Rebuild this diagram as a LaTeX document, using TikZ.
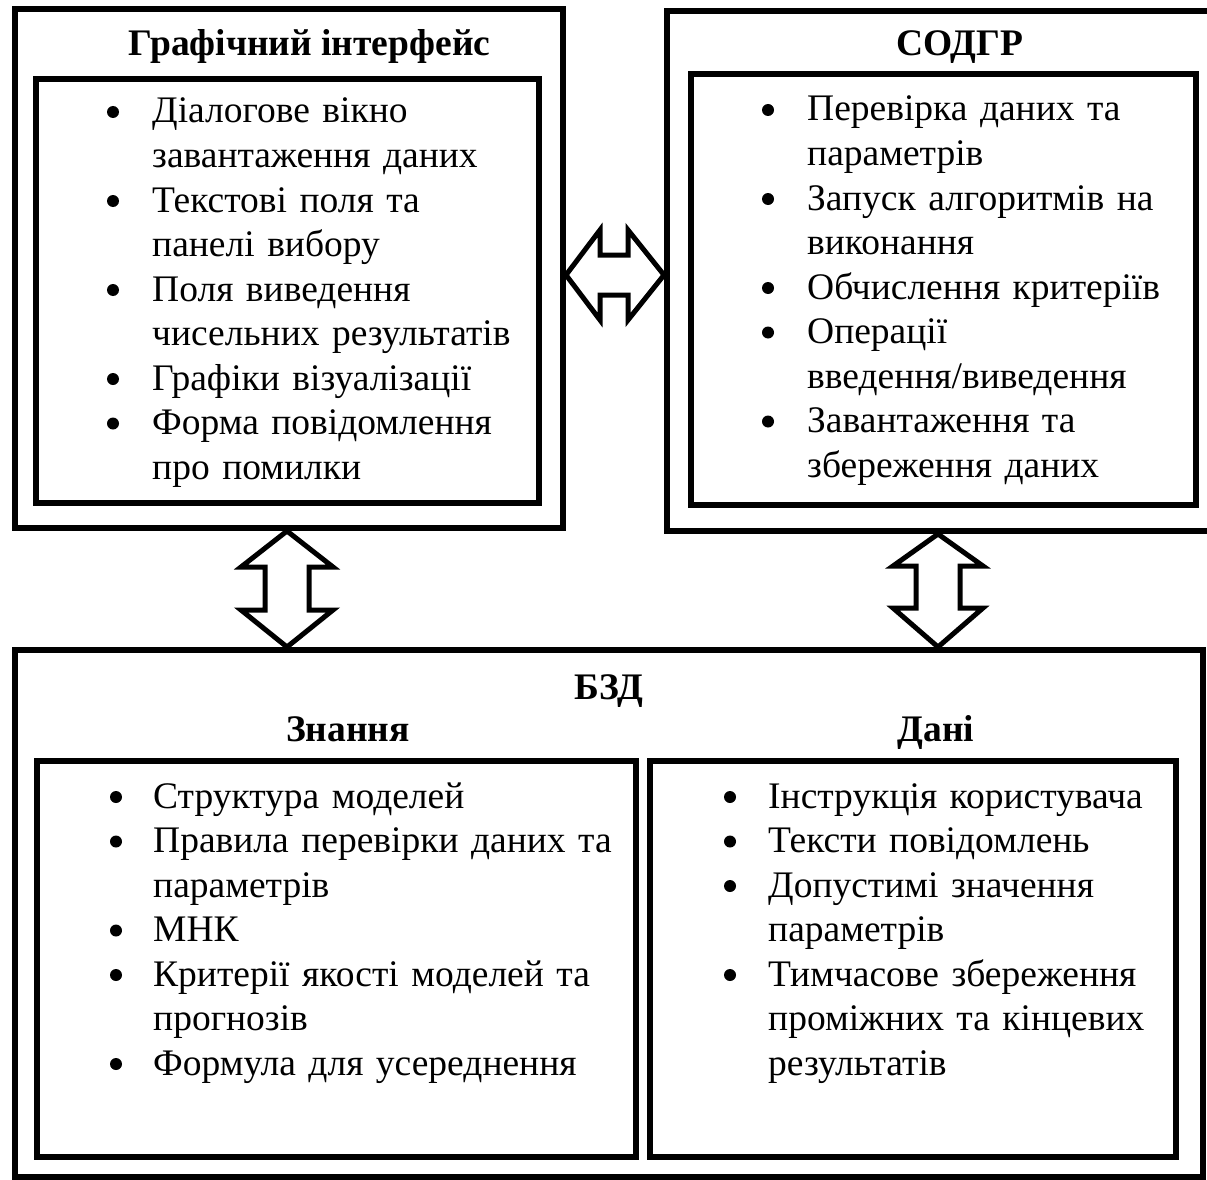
\documentclass[tikz,border=0pt]{standalone}
\usepackage{fontspec}
\setmainfont{Liberation Serif}
\usetikzlibrary{calc}
\begin{document}
\begin{tikzpicture}[x=1pt,y=-1pt,
  box/.style={draw, line width=6pt, rectangle, inner sep=0pt},
  itm/.style={anchor=base west, inner sep=0pt, text width=600pt, align=left, font=\fontsize{37.5}{44.5}\selectfont},
  bul/.style={circle, fill=black, inner sep=0pt, minimum size=12pt},
  ttl/.style={anchor=base, inner sep=0pt, font=\fontsize{37.5}{44.5}\selectfont\bfseries},
  dar/.style={draw, line width=5pt, fill=white, line join=miter}]
\useasboundingbox (0,0) rectangle (1207,1180);
% boxes
\node[box, minimum width=548pt, minimum height=519pt] (g) at (289,268.5) {};
\node[box, minimum width=503pt, minimum height=424pt] (gi) at (287.5,291) {};
\node[box, minimum width=544pt, minimum height=520pt] (s) at (939,271) {};
\node[box, minimum width=505pt, minimum height=431pt] (si) at (943.5,289.5) {};
\node[box, minimum width=1188pt, minimum height=527pt] (b) at (609,913.5) {};
\node[box, minimum width=599pt, minimum height=396pt] (bk) at (336.5,959) {};
\node[box, minimum width=526pt, minimum height=396pt] (bd) at (913,959) {};
% titles
\node[ttl] (tg) at (309.5,56) {Графічний інтерфейс};
\node[ttl] (ts) at (960,56) {СОДГР};
\node[ttl] (tb) at (609,699) {БЗД};
\node[ttl] (tk) at (348,741) {Знання};
\node[ttl] (td) at (936,741) {Дані};
% box 1 items
\node[bul] (g1b) at (113,112) {};
\node[itm] (g1) at (152,123) {Діалогове вікно\\завантаження даних};
\node[bul] (g2b) at (113,201) {};
\node[itm] (g2) at (152,212) {Текстові поля та\\панелі вибору};
\node[bul] (g3b) at (113,290) {};
\node[itm] (g3) at (152,301) {Поля виведення\\чисельних результатів};
\node[bul] (g4b) at (113,379) {};
\node[itm] (g4) at (152,390) {Графіки візуалізації};
\node[bul] (g5b) at (113,423.5) {};
\node[itm] (g5) at (152,434.5) {Форма повідомлення\\про помилки};
% box 2 items
\node[bul] (s1b) at (768,110) {};
\node[itm] (s1) at (807,121) {Перевірка даних та\\параметрів};
\node[bul] (s2b) at (768,199) {};
\node[itm] (s2) at (807,210) {Запуск алгоритмів на\\виконання};
\node[bul] (s3b) at (768,288) {};
\node[itm] (s3) at (807,299) {Обчислення критеріїв};
\node[bul] (s4b) at (768,332.5) {};
\node[itm] (s4) at (807,343.5) {Операції\\введення/виведення};
\node[bul] (s5b) at (768,421.5) {};
\node[itm] (s5) at (807,432.5) {Завантаження та\\збереження даних};
% bottom left items
\node[bul] (k1b) at (116,797) {};
\node[itm] (k1) at (153,808) {Структура моделей};
\node[bul] (k2b) at (116,841.5) {};
\node[itm] (k2) at (153,852.5) {Правила перевірки даних та\\параметрів};
\node[bul] (k3b) at (116,930.5) {};
\node[itm] (k3) at (153,941.5) {МНК};
\node[bul] (k4b) at (116,975) {};
\node[itm] (k4) at (153,986) {Критерії якості моделей та\\прогнозів};
\node[bul] (k5b) at (116,1064) {};
\node[itm] (k5) at (153,1075) {Формула для усереднення};
% bottom right items
\node[bul] (d1b) at (730,797) {};
\node[itm] (d1) at (768,808) {Інструкція користувача};
\node[bul] (d2b) at (730,841.5) {};
\node[itm] (d2) at (768,852.5) {Тексти повідомлень};
\node[bul] (d3b) at (730,886) {};
\node[itm] (d3) at (768,897) {Допустимі значення\\параметрів};
\node[bul] (d4b) at (730,975) {};
\node[itm] (d4) at (768,986) {Тимчасове збереження\\проміжних та кінцевих\\результатів};
% arrows
\coordinate (hl) at (g.east |- 0,275);
\coordinate (hr) at (s.west |- 0,275);
\draw[dar] (hl) -- ++(34,-45) -- ++(0,25) -- ($(hr)+(-36,-20)$) -- ++(0,-25) -- (hr)
  -- ++(-36,45) -- ++(0,-25) -- ($(hl)+(34,20)$) -- ++(0,25) -- cycle;
\coordinate (v1t) at (g.south -| 287,0);
\coordinate (v1b) at (b.north -| 287,0);
\draw[dar] (v1t) -- ++(46,36) -- ++(-24,0) -- ($(v1b)+(22,-37)$) -- ++(24,0) -- (v1b)
  -- ++(-46,-37) -- ++(24,0) -- ($(v1t)+(-22,36)$) -- ++(-24,0) -- cycle;
\coordinate (v2t) at (s.south -| 938,0);
\coordinate (v2b) at (b.north -| 938,0);
\draw[dar] (v2t) -- ++(45,32) -- ++(-23,0) -- ($(v2b)+(22,-39)$) -- ++(23,0) -- (v2b)
  -- ++(-45,-39) -- ++(23,0) -- ($(v2t)+(-22,32)$) -- ++(-23,0) -- cycle;
\end{tikzpicture}
\end{document}
